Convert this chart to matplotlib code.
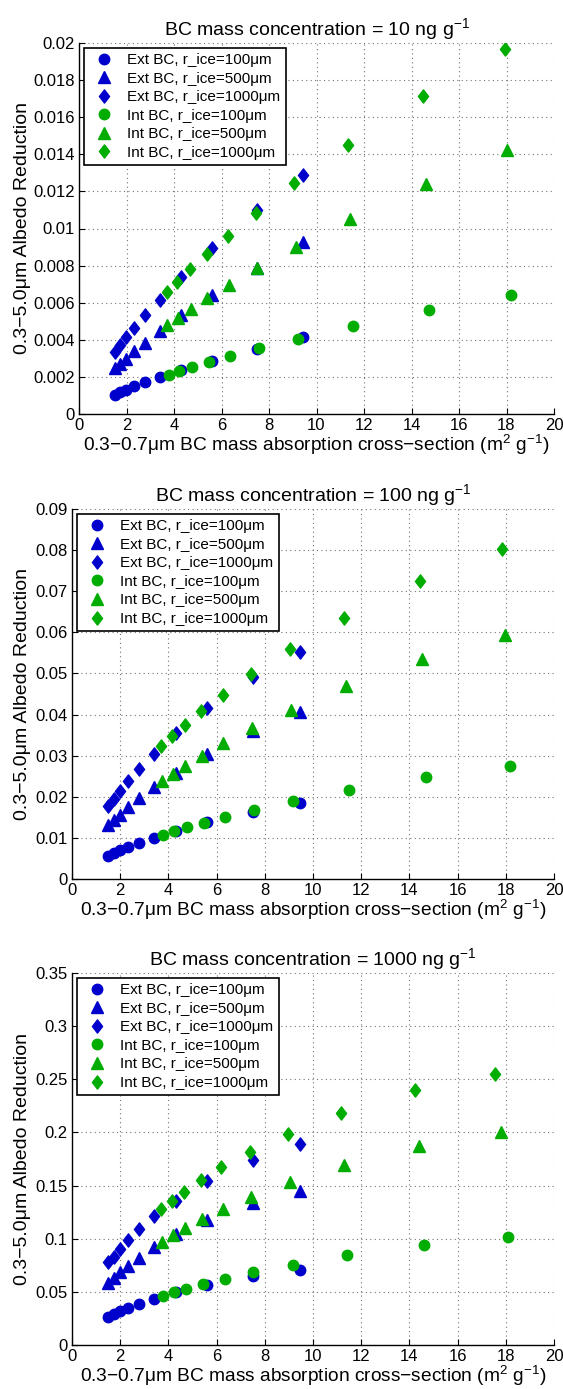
import matplotlib

matplotlib.use("Agg")
import matplotlib.pyplot as plt
from matplotlib.path import Path
from matplotlib.ticker import FuncFormatter
from matplotlib.transforms import blended_transform_factory

plt.rcParams["font.family"] = ["Liberation Sans", "DejaVu Sans"]
plt.rcParams["mathtext.fontset"] = "custom"
plt.rcParams["mathtext.rm"] = "Liberation Sans"
plt.rcParams["mathtext.it"] = "Liberation Sans"
plt.rcParams["mathtext.bf"] = "Liberation Sans"

# BC mass concentrations (ng/g), one panel each
concentrations = ["10", "100", "1000"]

# MAC of externally mixed BC (same for all panels)
ext_mac = [1.5, 1.73, 1.98, 2.32, 2.79, 3.41, 4.31, 5.62, 7.51, 9.45]

# --- 10 ng/g ---
ext_r100_10 = [0.00104, 0.00117, 0.00132, 0.00149, 0.00171, 0.00198, 0.00237, 0.00288, 0.00352, 0.00415]
ext_r500_10 = [0.00248, 0.00271, 0.00298, 0.00338, 0.00385, 0.00449, 0.00532, 0.00643, 0.00789, 0.00927]
ext_r1000_10 = [0.00336, 0.0037, 0.00415, 0.00464, 0.00532, 0.00616, 0.00737, 0.00893, 0.01098, 0.0129]
int_mac_r100_10 = [3.79, 4.22, 4.77, 5.47, 6.37, 7.58, 9.22, 11.52, 14.74, 18.2]
int_r100_10 = [0.00212, 0.00234, 0.00253, 0.0028, 0.00311, 0.00354, 0.00404, 0.00474, 0.00559, 0.00643]
int_mac_r500_10 = [3.72, 4.18, 4.73, 5.4, 6.32, 7.51, 9.12, 11.41, 14.6, 18.03]
int_r500_10 = [0.00482, 0.00518, 0.00566, 0.00624, 0.00695, 0.00789, 0.009, 0.01051, 0.01238, 0.01421]
int_mac_r1000_10 = [3.7, 4.14, 4.69, 5.38, 6.27, 7.45, 9.07, 11.34, 14.5, 17.92]
int_r1000_10 = [0.00658, 0.00713, 0.00782, 0.00861, 0.0096, 0.01084, 0.01245, 0.01452, 0.01712, 0.01966]

# --- 100 ng/g ---
ext_r100_100 = [0.00567, 0.00624, 0.00713, 0.00786, 0.00867, 0.00997, 0.01167, 0.01378, 0.0162, 0.01848]
ext_r500_100 = [0.01305, 0.01426, 0.01564, 0.01742, 0.01961, 0.02229, 0.02577, 0.03039, 0.03606, 0.04052]
ext_r1000_100 = [0.01783, 0.01945, 0.02147, 0.0239, 0.02674, 0.03047, 0.03549, 0.04157, 0.04911, 0.05511]
int_mac_r100_100 = [3.77, 4.24, 4.77, 5.49, 6.36, 7.56, 9.19, 11.49, 14.69, 18.18]
int_r100_100 = [0.0107, 0.01159, 0.01256, 0.0137, 0.01507, 0.01686, 0.01896, 0.02172, 0.02488, 0.02755]
int_mac_r500_100 = [3.73, 4.19, 4.7, 5.39, 6.26, 7.46, 9.08, 11.36, 14.54, 17.98]
int_r500_100 = [0.02374, 0.02561, 0.02755, 0.02998, 0.03298, 0.03663, 0.04117, 0.04684, 0.05357, 0.05924]
int_mac_r1000_100 = [3.69, 4.13, 4.67, 5.35, 6.25, 7.42, 9.03, 11.29, 14.44, 17.86]
int_r1000_100 = [0.03225, 0.03468, 0.03752, 0.04076, 0.04481, 0.04984, 0.056, 0.06353, 0.07253, 0.08023]

# --- 1000 ng/g ---
ext_r100_1000 = [0.02668, 0.0292, 0.03233, 0.03516, 0.0386, 0.04363, 0.04959, 0.05681, 0.06497, 0.07093]
ext_r500_1000 = [0.0587, 0.06278, 0.06843, 0.0744, 0.08224, 0.09197, 0.1042, 0.1177, 0.1334, 0.1453]
ext_r1000_1000 = [0.0778, 0.0832, 0.0904, 0.0989, 0.1089, 0.1215, 0.1359, 0.1544, 0.1742, 0.189]
int_mac_r100_1000 = [3.77, 4.22, 4.74, 5.43, 6.33, 7.5, 9.15, 11.43, 14.62, 18.08]
int_r100_1000 = [0.04646, 0.0499, 0.05304, 0.05744, 0.06215, 0.06843, 0.07565, 0.08444, 0.09417, 0.102]
int_mac_r500_1000 = [3.73, 4.19, 4.7, 5.39, 6.25, 7.44, 9.05, 11.29, 14.4, 17.8]
int_r500_1000 = [0.0967, 0.1036, 0.1105, 0.1183, 0.128, 0.1397, 0.1532, 0.1695, 0.1874, 0.2003]
int_mac_r1000_1000 = [3.69, 4.13, 4.66, 5.35, 6.2, 7.37, 8.96, 11.17, 14.25, 17.54]
int_r1000_1000 = [0.1277, 0.1356, 0.1444, 0.1554, 0.1673, 0.1814, 0.1984, 0.2182, 0.2395, 0.2552]

y_max = [0.02, 0.09, 0.35]
y_step = [0.002, 0.01, 0.05]

BLUE = "#0000cc"
GREEN = "#00ad00"

# MATLAB-style diamond: a bit narrower than tall
DIAMOND = Path([(0, 1), (0.77, 0), (0, -1), (-0.77, 0), (0, 1)],
               [Path.MOVETO, Path.LINETO, Path.LINETO, Path.LINETO, Path.CLOSEPOLY])


def draw_panel(ax, conc, ext_ys, int_xs, int_ys, ymax, ystep):
    markers = ["o", "^", DIAMOND]
    sizes = [7.5, 8.5, 9.5]
    radii = ["100", "500", "1000"]
    for m, s, r, y in zip(markers, sizes, radii, ext_ys):
        ax.plot(ext_mac, y, linestyle="none", marker=m, ms=s, color=BLUE,
                mec=BLUE, label=f"Ext BC, r_ice={r}\u03bcm", zorder=3)
    for m, s, r, x, y in zip(markers, sizes, radii, int_xs, int_ys):
        ax.plot(x, y, linestyle="none", marker=m, ms=s, color=GREEN,
                mec=GREEN, label=f"Int BC, r_ice={r}\u03bcm", zorder=4)

    ax.set_xlim(0, 20)
    ax.set_ylim(0, ymax)
    ax.set_xticks(range(0, 21, 2))
    n = int(round(ymax / ystep))
    ax.set_yticks([i * ystep for i in range(n + 1)])
    ax.yaxis.set_major_formatter(FuncFormatter(lambda v, p: "0" if v == 0 else f"{v:.4g}"))

    ax.grid(True, linestyle=(0, (1, 3)), color="0.45", linewidth=0.8)
    ax.spines["top"].set_visible(False)
    ax.spines["right"].set_visible(False)
    ax.spines["left"].set_linewidth(1.0)
    ax.spines["bottom"].set_linewidth(1.0)
    ax.tick_params(direction="in", length=4, labelsize=12, pad=3)

    ax.set_title(f"BC mass concentration = {conc} ng g$^{{\u22121}}$", fontsize=14, pad=6)
    ax.set_xlabel("0.3\u22120.7\u03bcm BC mass absorption cross\u2212section (m$^2$ g$^{\u22121}$)",
                  fontsize=13.8, labelpad=0)
    ax.set_ylabel("0.3\u22125.0\u03bcm Albedo Reduction", fontsize=14)

    leg = ax.legend(loc="upper left", fontsize=11, frameon=True, fancybox=False,
                    borderaxespad=0.3, handletextpad=0.5, labelspacing=0.3,
                    handlelength=2.0, borderpad=0.35)
    leg.get_frame().set_edgecolor("black")
    leg.get_frame().set_linewidth(1.2)
    leg.get_frame().set_alpha(1)


fig = plt.figure(figsize=(5.63, 13.89), dpi=100)
W, H = 563, 1389
boxes = [(79, 43, 554, 414), (72, 509, 554, 879), (72, 973, 554, 1345)]
axes = [fig.add_axes([l / W, 1 - b / H, (r - l) / W, (b - t) / H]) for l, t, r, b in boxes]

draw_panel(axes[0], concentrations[0], [ext_r100_10, ext_r500_10, ext_r1000_10],
           [int_mac_r100_10, int_mac_r500_10, int_mac_r1000_10],
           [int_r100_10, int_r500_10, int_r1000_10], y_max[0], y_step[0])
draw_panel(axes[1], concentrations[1], [ext_r100_100, ext_r500_100, ext_r1000_100],
           [int_mac_r100_100, int_mac_r500_100, int_mac_r1000_100],
           [int_r100_100, int_r500_100, int_r1000_100], y_max[1], y_step[1])
draw_panel(axes[2], concentrations[2], [ext_r100_1000, ext_r500_1000, ext_r1000_1000],
           [int_mac_r100_1000, int_mac_r500_1000, int_mac_r1000_1000],
           [int_r100_1000, int_r500_1000, int_r1000_1000], y_max[2], y_step[2])

# y labels share the same horizontal position on the page
for ax in axes:
    ax.yaxis.set_label_coords(31 / W, 0.5,
                              transform=blended_transform_factory(fig.transFigure, ax.transAxes))

fig.savefig("out.png", dpi=100)
